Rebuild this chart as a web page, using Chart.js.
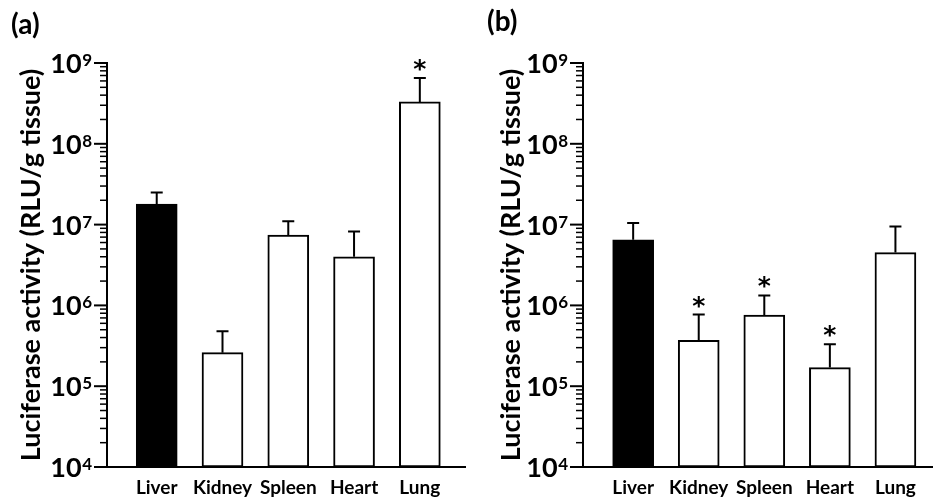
<!DOCTYPE html>
<html>
<head>
<meta charset="utf-8">
<script src="https://cdn.jsdelivr.net/npm/chart.js@4.4.1/dist/chart.umd.min.js"></script>
<style>
  html, body { margin: 0; padding: 0; background: #fff; }
  #wrap { position: relative; width: 933px; height: 504px; overflow: hidden; }
  .panel { position: absolute; top: 0; height: 504px; }
  .tag { position: absolute; font: 700 28px Lato, sans-serif; color: #000; line-height: 30px; }
</style>
</head>
<body>
<div id="wrap">
  <div class="panel" style="left:0;width:466px"><canvas id="chartA"></canvas></div>
  <div class="panel" style="left:466px;width:467px"><canvas id="chartB"></canvas></div>
  <div class="tag" style="left:11px;top:8px">(a)</div>
  <div class="tag" style="left:487px;top:5px">(b)</div>
</div>
<script>
var organs = ['Liver', 'Kidney', 'Spleen', 'Heart', 'Lung']

// (a) values, RLU/g tissue
var meanA = [1.8e7, 2.6e5, 7.4e6, 4.0e6, 3.3e8]
var semA = [7.0e6, 2.2e5, 3.6e6, 4.2e6, 3.2e8]
var starA = [false, false, false, false, true]

// (b)
var meanB = [6.5e6, 3.7e5, 7.6e5, 1.7e5, 4.5e6]
var semB = [4.0e6, 4.0e5, 5.7e5, 1.6e5, 5.0e6]
var starB = [false, true, true, true, false]

var yTitle = 'Luciferase activity (RLU/g tissue)'
var decades = [4, 5, 6, 7, 8, 9]
var minorSteps = [2, 3, 4, 5, 6, 7, 8, 9]

Chart.defaults.font.family = 'Lato'
Chart.defaults.color = '#000'

// error bars, stars and the log ticks with 10^n labels
var extras = {
  id: 'extras',
  afterDatasetsDraw: function (chart, args, opts) {
    var ctx = chart.ctx
    var x = chart.scales.x
    var y = chart.scales.y
    ctx.save()
    ctx.strokeStyle = '#000'
    ctx.fillStyle = '#000'
    ctx.lineWidth = 2
    opts.mean.forEach(function (m, i) {
      var px = x.getPixelForValue(i + 1)
      var top = y.getPixelForValue(m)
      var hi = y.getPixelForValue(m + opts.sem[i])
      ctx.beginPath()
      ctx.moveTo(px, top)
      ctx.lineTo(px, hi)
      ctx.moveTo(px - 6, hi)
      ctx.lineTo(px + 6, hi)
      ctx.stroke()
      if (opts.star[i]) {
        ctx.font = '700 25px "DejaVu Sans"'
        ctx.textAlign = 'center'
        ctx.textBaseline = 'alphabetic'
        ctx.fillText('*', px, hi - 1)
      }
    })
    ctx.restore()
  },
  afterDraw: function (chart) {
    var ctx = chart.ctx
    var y = chart.scales.y
    var ax = chart.chartArea.left
    ctx.save()
    ctx.strokeStyle = '#000'
    ctx.fillStyle = '#000'
    decades.forEach(function (e) {
      var py = y.getPixelForValue(Math.pow(10, e))
      ctx.lineWidth = 2
      ctx.beginPath()
      ctx.moveTo(ax - 13, py)
      ctx.lineTo(ax, py)
      ctx.stroke()
      if (e < 9) {
        ctx.lineWidth = 1.5
        minorSteps.forEach(function (s) {
          var q = y.getPixelForValue(s * Math.pow(10, e))
          ctx.beginPath()
          ctx.moveTo(ax - 7, q)
          ctx.lineTo(ax, q)
          ctx.stroke()
        })
      }
      var supRight = ax - 15
      ctx.textAlign = 'right'
      ctx.textBaseline = 'alphabetic'
      ctx.font = '700 17px Lato'
      ctx.fillText(String(e), supRight, py + 3)
      var w = ctx.measureText(String(e)).width
      ctx.font = '700 27px Lato'
      ctx.fillText('10', supRight - w - 0.5, py + 10)
    })
    ctx.restore()
  }
}

function makeChart(id, mean, sem, star, axisLeft, xMin, xMax, titlePad) {
  return new Chart(document.getElementById(id), {
    type: 'bar',
    data: {
      datasets: [{
        data: mean.map(function (v, i) { return { x: i + 1, y: v } }),
        backgroundColor: mean.map(function (v, i) { return i === 0 ? '#000' : '#fff' }),
        borderColor: '#000',
        borderWidth: 2,
        borderSkipped: false,
        barThickness: 41
      }]
    },
    options: {
      responsive: true,
      maintainAspectRatio: false,
      animation: false,
      events: [],
      layout: { padding: { top: 63, left: 0, right: 0, bottom: 0 } },
      plugins: {
        legend: { display: false },
        tooltip: { enabled: false },
        extras: { mean: mean, sem: sem, star: star }
      },
      scales: {
        x: {
          type: 'linear',
          offset: false,
          min: xMin,
          max: xMax,
          afterBuildTicks: function (s) {
            s.ticks = organs.map(function (o, i) { return { value: i + 1 } })
          },
          afterFit: function (s) { s.height = 37 },
          ticks: {
            callback: function (v) { return organs[v - 1] },
            font: { size: 19, weight: '700' },
            color: '#000',
            padding: 9,
            autoSkip: false,
            maxRotation: 0
          },
          grid: { display: false, drawTicks: false },
          border: { color: '#000', width: 2 }
        },
        y: {
          type: 'logarithmic',
          min: 1e4,
          max: 1e9,
          afterFit: function (s) { s.width = axisLeft },
          ticks: { display: false },
          grid: { display: false, drawTicks: false },
          border: { color: '#000', width: 2 },
          title: {
            display: true,
            text: yTitle,
            color: '#000',
            font: { size: 27, weight: '700' },
            padding: { top: titlePad, bottom: 0 }
          }
        }
      }
    },
    plugins: [extras]
  })
}

makeChart('chartA', meanA, semA, starA, 107, 0.244, 5.702, 15)
makeChart('chartB', meanB, semB, starB, 117, 0.235, 5.573, 29)
</script>
</body>
</html>
